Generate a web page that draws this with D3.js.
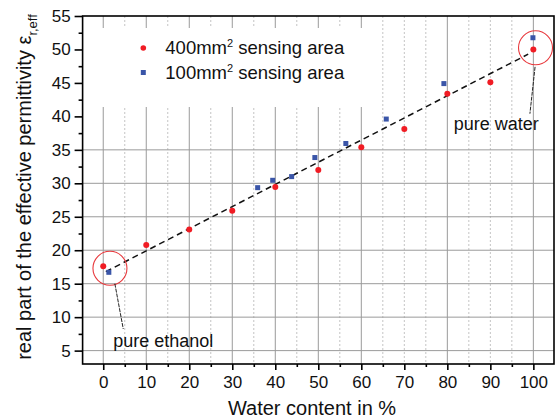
<!DOCTYPE html>
<html>
<head>
<meta charset="utf-8">
<script src="https://cdn.jsdelivr.net/npm/d3@7"></script>
<style>
  body { margin: 0; background: #fff; }
  text { font-family: "Liberation Sans", Arial, sans-serif; fill: #111; }
</style>
</head>
<body>
<div id="chart"></div>
<script>
// measured values (water content in %, real part of eps_r,eff)
var water400 = [0, 10, 20, 30, 40, 50, 60, 70, 80, 90, 100];
var eps400 = [17.6, 20.8, 23.1, 25.9, 29.45, 32.0, 35.4, 38.1, 43.4, 45.1, 50.0];
var water100 = [1.3, 35.9, 39.4, 43.8, 49.2, 56.4, 65.8, 79.2, 99.9];
var eps100 = [16.7, 29.35, 30.45, 31.0, 33.85, 35.95, 39.6, 44.9, 51.75];
var fitX = [0.6, 98.8];
var fitY = [16.8, 49.3];

var xTicks = [0, 10, 20, 30, 40, 50, 60, 70, 80, 90, 100];
var xMinor = [5, 15, 25, 35, 45, 55, 65, 75, 85, 95];
var yTicks = [5, 10, 15, 20, 25, 30, 35, 40, 45, 50, 55];
var yMinor = [7.5, 12.5, 17.5, 22.5, 27.5, 32.5, 37.5, 42.5, 47.5, 52.5];
var xGridSolid = [0, 10, 20, 30, 40, 50, 60, 80, 100];
var xGridDotted = [5, 15, 25, 35, 45, 55, 65, 70, 75, 85, 90, 95];
var yGrid = [5, 10, 15, 20, 25, 30, 35];

var seriesNames = ['400mm', '100mm'];
var noteText = ['pure ethanol', 'pure water'];
var noteCenter = [[1.56, 17.3], [100.5, 50.25]];
var noteLeader = [[[2.7, 15.0], [4.65, 8.25]], [[100.4, 47.4], [99.2, 40.4]]];
var noteLabelAt = [[2.3, 5.5], [81.5, 37.9]];

var W = 555, H = 419;
var pL = 82.6, pR = 554, pT = 16, pB = 364;

var svg = d3.select('#chart').append('svg')
  .attr('width', W)
  .attr('height', H);

var x = d3.scaleLinear().domain([-4.8, 104.8]).range([pL, pR]);
var y = d3.scaleLinear().domain([3, 55]).range([pB, pT]);

// grid
svg.selectAll('.gx').data(xGridDotted)
 .enter().append('line')
  .attr('x1', function(d) { return x(d); }).attr('x2', function(d) { return x(d); })
  .attr('y1', pT).attr('y2', pB)
  .style('stroke', '#c4c4c4').style('stroke-dasharray', '2,2').style('stroke-width', 1);
svg.selectAll('.gxs').data(xGridSolid)
 .enter().append('line')
  .attr('x1', function(d) { return x(d); }).attr('x2', function(d) { return x(d); })
  .attr('y1', pT).attr('y2', pB)
  .style('stroke', '#9a9a9a').style('stroke-width', 1);
svg.selectAll('.gy').data(yGrid)
 .enter().append('line')
  .attr('x1', pL).attr('x2', pR)
  .attr('y1', function(d) { return y(d); }).attr('y2', function(d) { return y(d); })
  .style('stroke', '#9a9a9a').style('stroke-width', 1);

// legend box hides the grid behind it
svg.append('rect')
  .attr('x', pL).attr('y', 28).attr('width', 292).attr('height', 79)
  .style('fill', '#fff');

// frame
svg.append('rect')
  .attr('x', pL).attr('y', pT).attr('width', pR - pL).attr('height', pB - pT)
  .style('fill', 'none').style('stroke', '#000').style('stroke-width', 1.6);

// axes
svg.append('g').attr('transform', 'translate(' + pL + ',0)')
  .call(d3.axisLeft(y).tickValues(yTicks).tickSize(8).tickPadding(4).tickFormat(d3.format('d')));
svg.append('g').attr('transform', 'translate(' + pL + ',0)')
  .call(d3.axisLeft(y).tickValues(yMinor).tickSize(4).tickFormat(''));
svg.append('g').attr('transform', 'translate(0,' + pB + ')')
  .call(d3.axisBottom(x).tickValues(xTicks).tickSize(6).tickPadding(6).tickFormat(d3.format('d')));
svg.append('g').attr('transform', 'translate(0,' + pB + ')')
  .call(d3.axisBottom(x).tickValues(xMinor).tickSize(3).tickFormat(''));
svg.selectAll('.domain').remove();
svg.selectAll('.tick line').style('stroke', '#000').style('stroke-width', 1.6);
svg.selectAll('.tick text').style('font-size', '17px').style('fill', '#111')
  .style('font-family', '"Liberation Sans", Arial, sans-serif');

// fit line
svg.append('line')
  .attr('x1', x(fitX[0])).attr('y1', y(fitY[0]))
  .attr('x2', x(fitX[1])).attr('y2', y(fitY[1]))
  .style('stroke', '#111').style('stroke-width', 1.5).style('stroke-dasharray', '6,4');

// data points
svg.selectAll('.sq')
  .data(water100)
 .enter().append('rect')
  .attr('class', 'sq')
  .attr('x', function(d) { return x(d) - 2.5; })
  .attr('y', function(d, i) { return y(eps100[i]) - 2.5; })
  .attr('width', 5).attr('height', 5)
  .style('fill', '#3a55a8');
svg.selectAll('.dot')
  .data(water400)
 .enter().append('circle')
  .attr('class', 'dot')
  .attr('cx', function(d) { return x(d); })
  .attr('cy', function(d, i) { return y(eps400[i]); })
  .attr('r', 3)
  .style('fill', '#f01c24');

// annotations
noteText.forEach(function(t, i) {
  svg.append('circle')
    .attr('cx', x(noteCenter[i][0])).attr('cy', y(noteCenter[i][1])).attr('r', 17)
    .style('fill', 'none').style('stroke', '#e8383c').style('stroke-width', 1.1);
  svg.append('line')
    .attr('x1', x(noteLeader[i][0][0])).attr('y1', y(noteLeader[i][0][1]))
    .attr('x2', x(noteLeader[i][1][0])).attr('y2', y(noteLeader[i][1][1]))
    .style('stroke', '#222').style('stroke-width', 1).style('stroke-dasharray', '4,1');
  svg.append('text')
    .attr('x', x(noteLabelAt[i][0])).attr('y', y(noteLabelAt[i][1]))
    .style('font-size', '18px')
    .text(t);
});

// legend
var legend = svg.selectAll('.leg')
  .data(seriesNames)
 .enter().append('g')
  .attr('class', 'leg')
  .attr('transform', function(d, i) { return 'translate(143.3,' + (48 + i * 24.5) + ')'; });
legend.filter(function(d, i) { return i == 0; }).append('circle')
  .attr('r', 2.8).style('fill', '#f01c24');
legend.filter(function(d, i) { return i == 1; }).append('rect')
  .attr('x', -2.5).attr('y', -2.5).attr('width', 5).attr('height', 5).style('fill', '#3a55a8');
var lt = legend.append('text')
  .attr('x', 22).attr('y', 6)
  .style('font-size', '18.5px');
lt.append('tspan').text(function(d) { return d; });
lt.append('tspan').attr('dy', -7).style('font-size', '11px').text('2');
lt.append('tspan').attr('dy', 7).text(' sensing area');

// axis titles
svg.append('text')
  .attr('x', 312).attr('y', 415)
  .attr('text-anchor', 'middle')
  .style('font-size', '20px')
  .text('Water content in %');

var yt = svg.append('text')
  .attr('transform', 'translate(31,187) rotate(-90)')
  .attr('text-anchor', 'middle')
  .style('font-size', '20px');
yt.append('tspan').text('real part of the effective permittivity \u03b5');
yt.append('tspan').attr('dy', 6).style('font-size', '13px').text('r,eff');
</script>
</body>
</html>
